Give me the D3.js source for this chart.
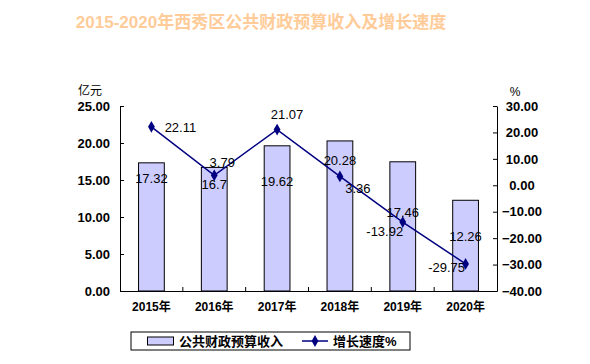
<!DOCTYPE html>
<html><head><meta charset="utf-8">
<script src="https://cdn.jsdelivr.net/npm/d3@7"></script>
<style>
body{margin:0;background:#fff;}
text{font-family:"Liberation Sans",Arial,"Noto Sans CJK SC",sans-serif;}
</style></head>
<body><svg id="c" width="590" height="364"></svg>
<script>
const title = "2015-2020年西秀区公共财政预算收入及增长速度";
const categories = ["2015年","2016年","2017年","2018年","2019年","2020年"];
const revenue = [17.32, 16.7, 19.62, 20.28, 17.46, 12.26];
const growth = [22.11, 3.79, 21.07, 3.36, -13.92, -29.75];
const leftTicks = [0,5,10,15,20,25];
const rightTicks = [-40,-30,-20,-10,0,10,20,30];
const seriesNames = ["公共财政预算收入","增长速度%"];
// label placement offsets (layout only)
const barLabelDy = [15, 17, 35, 19, 50, 36];
const lineLabelOff = [[29,0],[8,-13],[10,-16],[18,12],[-18,9],[-19,3]];

const svg = d3.select("#c");
const L=120,R=497,T=106,B=291;
const x = d3.scaleBand().domain(categories).range([L,R]).paddingInner(0).paddingOuter(0);
const yL = d3.scaleLinear().domain([0,25]).range([B,T]);
const yR = d3.scaleLinear().domain([-40,30]).range([B,T]);
const bw = x.bandwidth()*0.41;

svg.append("text").attr("x",261).attr("y",28).attr("text-anchor","middle")
  .attr("font-size",17).attr("font-weight","bold").attr("fill","#FFCC99").text(title);

// bars
svg.selectAll("rect.bar").data(revenue).enter().append("rect")
  .attr("x",(d,i)=>x(categories[i])+x.bandwidth()/2-bw/2)
  .attr("y",d=>yL(d)).attr("width",bw).attr("height",d=>B-yL(d))
  .attr("fill","#CCCCFF").attr("stroke","#000").attr("stroke-width",1);

// axes
const axL = svg.append("g").attr("transform",`translate(${L},0)`)
  .call(d3.axisLeft(yL).tickValues(leftTicks).tickFormat(d3.format(".2f")).tickSizeInner(-4).tickSizeOuter(0).tickPadding(10));
const axR = svg.append("g").attr("transform",`translate(${R},0)`)
  .call(d3.axisRight(yR).tickValues(rightTicks).tickFormat(d3.format(".2f")).tickSizeInner(-4).tickSizeOuter(0));
const axB = svg.append("g").attr("transform",`translate(0,${B})`)
  .call(d3.axisBottom(x).tickSize(0).tickPadding(11));
[axL,axR,axB].forEach(a=>{a.select(".domain").attr("stroke","#000");a.selectAll("line").attr("stroke","#000");});
axL.selectAll("text").attr("font-size",13).attr("font-weight","bold").attr("fill","#000");
axR.selectAll("text").attr("font-size",13).attr("font-weight","bold").attr("fill","#000")
  .attr("text-anchor","middle").attr("x",25);
axB.selectAll("text").attr("font-size",12).attr("font-weight","bold").attr("fill","#000");
// category boundary ticks
const bounds = categories.slice(1).map(c=>x(c));
svg.append("g").selectAll("line").data(bounds).enter().append("line")
  .attr("x1",d=>d).attr("x2",d=>d).attr("y1",B).attr("y2",B-4).attr("stroke","#000");

svg.append("text").attr("x",90).attr("y",95).attr("text-anchor","middle").attr("font-size",12).attr("fill","#000").text("亿元");
svg.append("text").attr("x",515).attr("y",96).attr("text-anchor","middle").attr("font-size",12).attr("fill","#000").text("%");

// line
const cx = c=>x(c)+x.bandwidth()/2;
const line = d3.line().x((d,i)=>cx(categories[i])).y(d=>yR(d));
svg.append("path").datum(growth).attr("d",line).attr("fill","none").attr("stroke","#000080").attr("stroke-width",1.5);
const diamond = d3.symbol().type(d3.symbolDiamond).size(40);
svg.selectAll("path.mk").data(growth).enter().append("path")
  .attr("transform",(d,i)=>`translate(${cx(categories[i])},${yR(d)})`)
  .attr("d",diamond).attr("fill","#000080");

// labels
svg.selectAll("text.bl").data(revenue).enter().append("text")
  .attr("x",(d,i)=>cx(categories[i])).attr("y",(d,i)=>yL(d)+barLabelDy[i]+5)
  .attr("text-anchor","middle").attr("font-size",13).attr("fill","#000").text(d=>d);
svg.selectAll("text.ll").data(growth).enter().append("text")
  .attr("x",(d,i)=>cx(categories[i])+lineLabelOff[i][0]).attr("y",(d,i)=>yR(d)+lineLabelOff[i][1]+5)
  .attr("text-anchor","middle").attr("font-size",13).attr("fill","#000").text(d=>d.toFixed(2));

// legend
const lg = svg.append("g");
lg.append("rect").attr("x",131).attr("y",332).attr("width",279).attr("height",18).attr("fill","#fff").attr("stroke","#000");
lg.append("rect").attr("x",147.5).attr("y",337).attr("width",26).attr("height",8).attr("fill","#CCCCFF").attr("stroke","#000");
lg.append("text").attr("x",179).attr("y",346).attr("font-size",13).attr("font-weight","bold").attr("fill","#000").text(seriesNames[0]);
lg.append("line").attr("x1",302).attr("x2",328).attr("y1",341).attr("y2",341).attr("stroke","#000080").attr("stroke-width",1.5);
lg.append("path").attr("transform","translate(315,341)").attr("d",diamond).attr("fill","#000080");
lg.append("text").attr("x",333).attr("y",346).attr("font-size",13).attr("font-weight","bold").attr("fill","#000").text(seriesNames[1]);
</script></body></html>
